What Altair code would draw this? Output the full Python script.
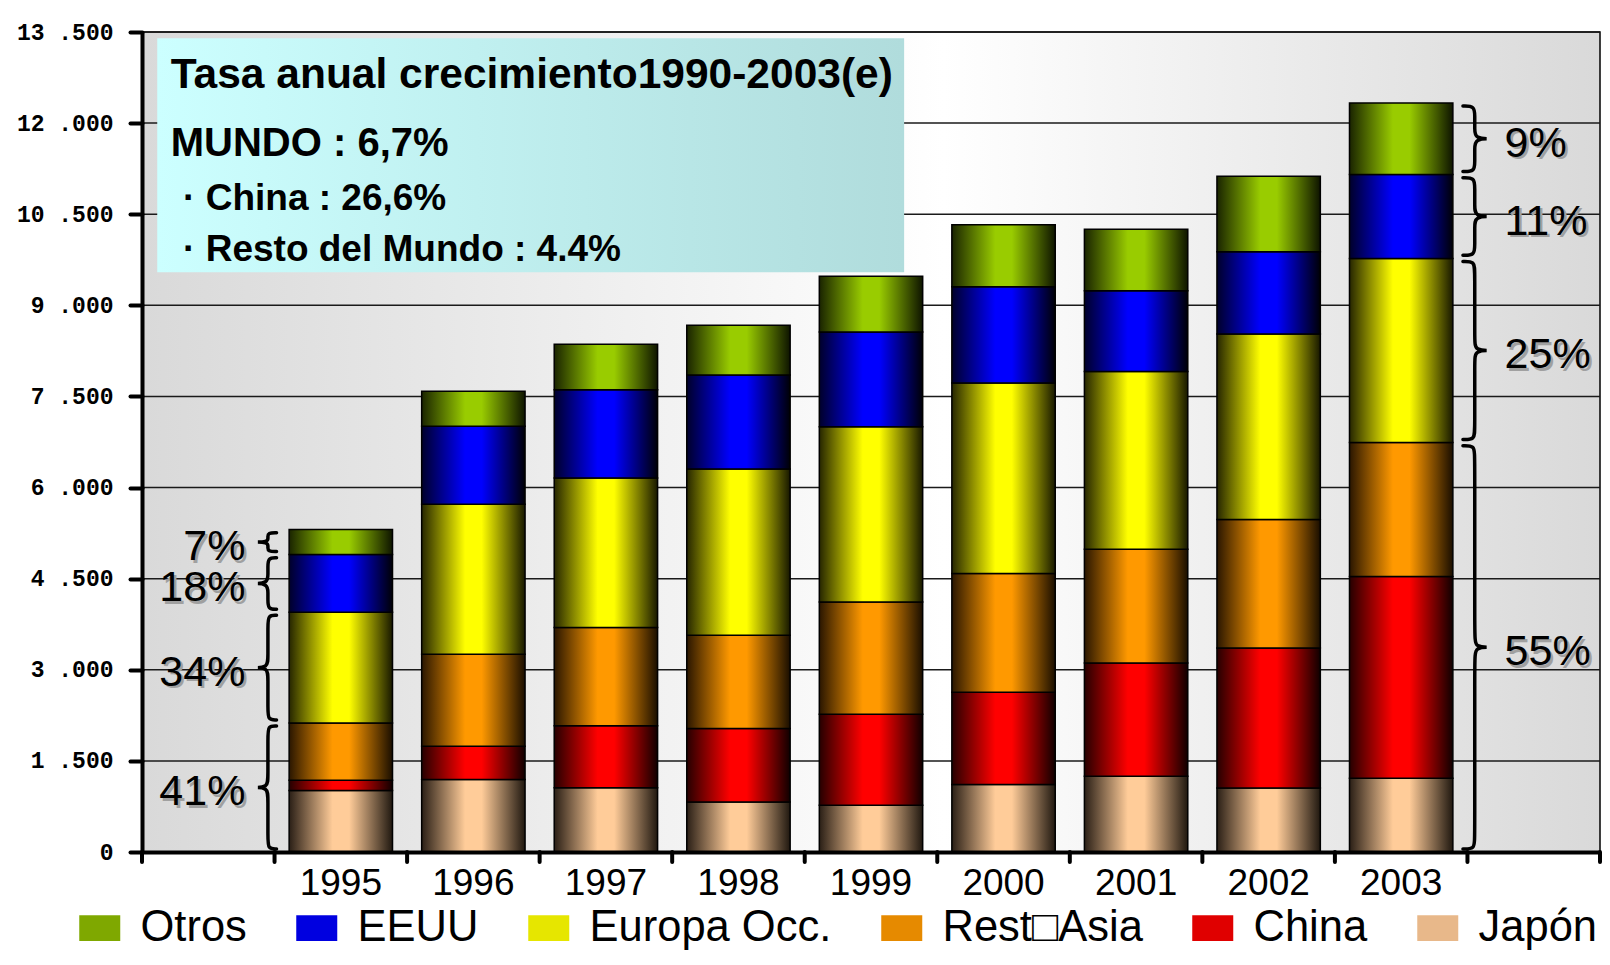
import altair as alt
import pandas as pd

# ---------------- data ----------------
years = ["1995", "1996", "1997", "1998", "1999", "2000", "2001", "2002", "2003"]
japon = [1011, 1193, 1057, 822, 770, 1110, 1246, 1055, 1213]
china = [169, 548, 1023, 1213, 1496, 1519, 1866, 2302, 3324]
rest_asia = [944, 1513, 1618, 1532, 1851, 1956, 1874, 2119, 2203]
europa = [1822, 2472, 2459, 2740, 2886, 3135, 2923, 3050, 3033]
eeuu = [950, 1285, 1454, 1545, 1556, 1587, 1330, 1355, 1379]
otros = [412, 574, 750, 822, 921, 1019, 1012, 1246, 1180]

series_bottom_up = ["Japón", "China", "Rest\u25a1Asia", "Europa Occ.", "EEUU", "Otros"]
series_values = [japon, china, rest_asia, europa, eeuu, otros]
legend_order = ["Otros", "EEUU", "Europa Occ.", "Rest\u25a1Asia", "China", "Japón"]

y_ticks = [0, 1500, 3000, 4500, 6000, 7500, 9000, 10500, 12000, 13500]

left_pcts = ["41%", "34%", "18%", "7%"]     # 1995: Asia, Europa, EEUU, Otros
right_pcts = ["55%", "25%", "11%", "9%"]    # 2003
box_lines = ["Tasa anual crecimiento1990-2003(e)", "MUNDO : 6,7%",
             "\u00b7 China : 26,6%", "\u00b7 Resto del Mundo : 4.4%"]

# ---------------- styles ----------------
W, H = 1458, 820
FONT = "Liberation Sans"
colors_mid = {"Otros": "#7fa800", "EEUU": "#0000e0", "Europa Occ.": "#e6e600",
              "Rest\u25a1Asia": "#e68a00", "China": "#e00000", "Japón": "#e8b88a"}
shade = {"Otros": ("#1a2400", "#99cc00", "#0e1400"),
         "EEUU": ("#00002a", "#0000ff", "#000006"),
         "Europa Occ.": ("#262600", "#ffff00", "#181800"),
         "Rest\u25a1Asia": ("#2a1600", "#ff9900", "#1a0e00"),
         "China": ("#260000", "#ff0000", "#100000"),
         "Japón": ("#2a1f16", "#ffcc99", "#201810")}


def stops_for(s):
    dl, br, dr = shade[s]
    return [(0, dl), (0.42, br), (0.58, br), (1, dr)]


def grad(stops):
    return {"gradient": "linear", "x1": 0, "y1": 0, "x2": 1, "y2": 0,
            "stops": [{"offset": o, "color": c} for o, c in stops]}


# ---------------- tables ----------------
rows = []
for i, yr in enumerate(years):
    base = 0
    for s, vals in zip(series_bottom_up, series_values):
        rows.append({"year": yr, "series": s, "y0": base, "y1": base + vals[i]})
        base += vals[i]
bars_df = pd.DataFrame(rows)


def group_bounds(idx):
    cum = [0]
    for vals in series_values:
        cum.append(cum[-1] + vals[idx])
    return [(cum[0], cum[3]), (cum[3], cum[4]), (cum[4], cum[5]), (cum[5], cum[6])]


left_b = group_bounds(0)
right_b = group_bounds(len(years) - 1)

# brace geometry in band units (annotation x scale: 0..11 bands)
INSET = 50
brace_rows = []


def add_brace(bid, xe, xb, xt, yb, yt):
    yb, yt = yb + INSET, yt - INSET
    mid = (yb + yt) / 2
    r = min(170, (yt - yb) / 4)
    pts = [(xe, yt), (xb, yt), (xb, yt - r), (xb, mid + r), (xb, mid), (xt, mid),
           (xb, mid), (xb, mid - r), (xb, yb + r), (xb, yb), (xe, yb)]
    for k, (px, py) in enumerate(pts):
        brace_rows.append({"bid": bid, "k": k, "ax": px, "y": py})


for j, (a, b) in enumerate(left_b):
    add_brace("L%d" % j, 1.015, 0.950, 0.836, a, b)
for j, (a, b) in enumerate(right_b):
    add_brace("R%d" % j, 9.966, 10.055, 10.19, a, b)
brace_df = pd.DataFrame(brace_rows)

lp_df = pd.DataFrame({"t": left_pcts, "ax": [0.78] * 4, "y": [(a + b) / 2 for a, b in left_b]})
rp_df = pd.DataFrame({"t": right_pcts, "ax": [10.28] * 4, "y": [(a + b) / 2 for a, b in right_b]})

box_df = pd.DataFrame({"ax": [0.115], "ax2": [5.75], "y": [9544], "y2": [13396]})
boxtext_df = pd.DataFrame({"t": box_lines, "ax": [0.217, 0.217, 0.31, 0.31],
                           "y": [12787, 11656, 10746, 9914], "fs": [42.5, 40, 37, 37]})
x_domain = [""] + years + [" "]
bg_df = pd.DataFrame({"ax": [0], "ax2": [len(x_domain)], "y": [0], "y2": [y_ticks[-1]]})
grid_df = pd.DataFrame({"y": y_ticks[1:], "ax": [0] * (len(y_ticks) - 1),
                        "ax2": [len(x_domain)] * (len(y_ticks) - 1)})
xtick_df = pd.DataFrame({"ax": list(range(len(x_domain) + 1)), "y": [0] * (len(x_domain) + 1)})

# ---------------- encodings ----------------
x_band = alt.X("year:N", sort=None,
               scale=alt.Scale(domain=x_domain, paddingInner=0.22, paddingOuter=0.11),
               axis=alt.Axis(orient="bottom", title=None, labelAngle=0, labelFont=FONT,
                             labelFontSize=37, labelColor="black", ticks=False,
                             domainColor="black", domainWidth=4, labelPadding=13,
                             grid=False, zindex=1))
x_ann = alt.X("ax:Q", scale=alt.Scale(domain=[0, len(x_domain)], nice=False, zero=False), axis=None)

yscale = alt.Scale(domain=[0, 13500], nice=False, zero=True)
yaxis = alt.Axis(values=y_ticks, title=None, grid=False,
                 domainColor="black", domainWidth=4, tickColor="black", tickWidth=4,
                 tickSize=12, tickCap="round", labelFont="Liberation Mono", labelFontWeight="bold",
                 labelFontSize=23, labelColor="black", labelPadding=17, zindex=1,
                 labelExpr="datum.value == 0 ? '0' : replace(format(datum.value, ','), ',', ' .')")


def Y(field):
    return alt.Y(field, type="quantitative", scale=yscale, axis=yaxis)


# background + grid (annotation x scale)
bg = alt.Chart(bg_df).mark_rect(
    fill=grad([(0, "#d9d9d9"), (0.55, "#ffffff"), (1, "#d9d9d9")]),
    stroke="black", strokeWidth=1.5
).encode(x=x_ann, x2=alt.X2("ax2"), y=Y("y"), y2=alt.Y2("y2"))
grid = alt.Chart(grid_df).mark_rule(color="#1a1a1a", strokeWidth=1.5).encode(
    x=x_ann, x2=alt.X2("ax2"), y=Y("y"))
bg_group = alt.layer(bg, grid)

# stacked bars (band x scale)
base = alt.Chart(bars_df)
bar_layers = []
for s in series_bottom_up:
    bar_layers.append(
        base.transform_filter(alt.datum.series == s)
        .mark_bar(fill=grad(stops_for(s)), stroke="black", strokeWidth=1.5)
        .encode(x=x_band, y=Y("y1"), y2=alt.Y2("y0"))
    )
legend_layer = base.mark_bar(opacity=0).encode(
    x=x_band, y=Y("y1"), y2=alt.Y2("y0"),
    color=alt.Color("series:N",
                    scale=alt.Scale(domain=legend_order, range=[colors_mid[s] for s in legend_order]),
                    legend=alt.Legend(orient="none", legendX=-64, legendY=874, direction="horizontal",
                                      title=None, labelFont=FONT, labelFontSize=43.5, labelColor="black",
                                      symbolType="M-1,-0.63H1V0.63H-1Z", symbolSize=1681,
                                      symbolStrokeWidth=0, symbolOpacity=1, labelOffset=19,
                                      columnPadding=48, labelLimit=0, padding=0)),
)
bar_group = alt.layer(*bar_layers, legend_layer)

# annotations (annotation x scale)
xticks = alt.Chart(xtick_df).mark_rule(color="black", strokeWidth=4, strokeCap="round").encode(
    x=x_ann, y=Y("y"), y2=alt.value(H + 10))
box = alt.Chart(box_df).mark_rect(
    fill=grad([(0, "#ccffff"), (1, "#b0dcdc")])
).encode(x=x_ann, x2=alt.X2("ax2"), y=Y("y"), y2=alt.Y2("y2"))
box_text = alt.Chart(boxtext_df).mark_text(
    align="left", baseline="middle", font=FONT, fontWeight="bold", color="black"
).encode(x=x_ann, y=Y("y"), text="t:N", size=alt.Size("fs:Q", scale=None, legend=None))
braces = alt.Chart(brace_df).mark_line(
    interpolate="basis", color="black", strokeWidth=3.5, strokeCap="round"
).encode(x=x_ann, y=Y("y"), detail="bid:N", order="k:Q")
ann_layers = [xticks, box, box_text, braces]
for df, al in [(lp_df, "right"), (rp_df, "left")]:
    for col, off in [("#a0a0a0", 2.5), ("black", 0)]:
        ann_layers.append(
            alt.Chart(df).mark_text(align=al, baseline="middle", font=FONT, fontSize=43,
                                    color=col, dx=off, dy=5 + off)
            .encode(x=x_ann, y=Y("y"), text="t:N")
        )
ann_group = alt.layer(*ann_layers)

chart = alt.layer(bg_group, bar_group, ann_group).resolve_scale(x="independent").properties(
    width=W, height=H,
).configure(background="white", padding={"left": 8, "top": 13, "right": 0, "bottom": 0}
).configure_view(stroke=None)

chart.save("out.html", embed_options={"renderer": "svg", "actions": False})
